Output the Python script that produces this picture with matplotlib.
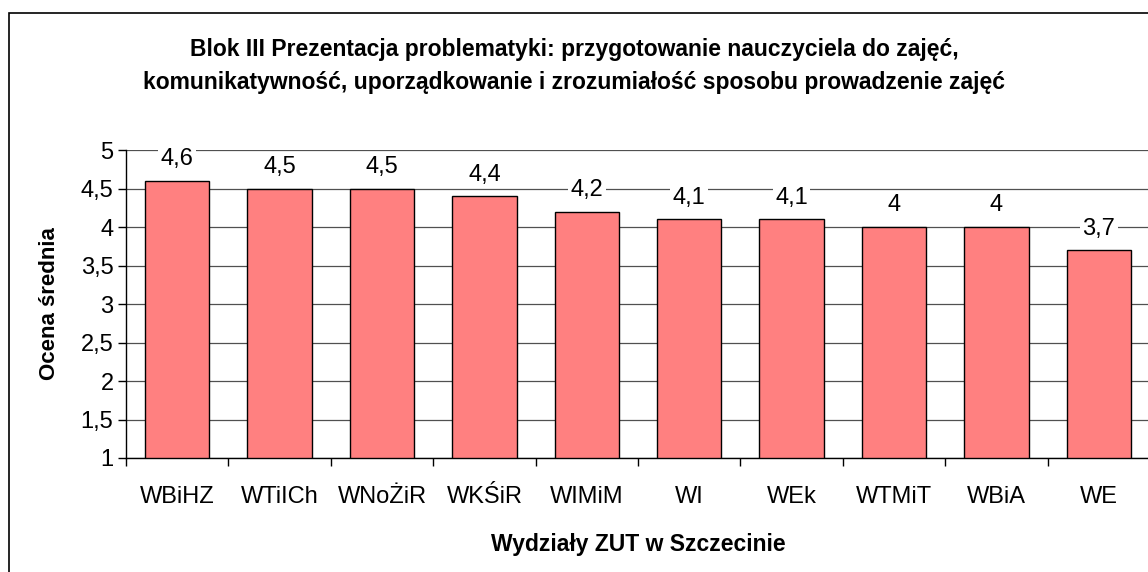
import matplotlib.pyplot as plt
from matplotlib.patches import Rectangle
from matplotlib.ticker import FixedLocator, FuncFormatter

plt.rcParams['font.family'] = ['Liberation Sans', 'DejaVu Sans']

wydzialy = ["WBiHZ", "WTiICh", "WNoŻiR", "WKŚiR", "WIMiM", "WI", "WEk", "WTMiT", "WBiA", "WE"]
oceny = [4.6, 4.5, 4.5, 4.4, 4.2, 4.1, 4.1, 4.0, 4.0, 3.7]
y_ticks = [1, 1.5, 2, 2.5, 3, 3.5, 4, 4.5, 5]

fig = plt.figure(figsize=(11.48, 5.72), dpi=100)
ax = fig.add_axes([126/1148, 1 - 458/572, 1024/1148, 308/572])

# outer chart frame (runs off right and bottom like in the screenshot)
fig.patches.append(Rectangle((9/1148, -0.1), 1.2, 1 - 13/572 + 0.1, transform=fig.transFigure,
                             fill=False, edgecolor='black', linewidth=1.2))

x = list(range(len(wydzialy)))
ax.bar(x, [v - 1 for v in oceny], bottom=1, width=0.63, color='#FF8080',
       edgecolor='black', linewidth=1, zorder=3)

for xi, v in zip(x, oceny):
    lab = ('%g' % v).replace('.', ',')
    ax.annotate(lab, (xi, v), xytext=(0, 15.5), textcoords='offset points',
                ha='center', va='center', fontsize=17, zorder=4,
                bbox=dict(boxstyle='square,pad=0.1', facecolor='white', edgecolor='none'))

ax.set_xlim(-0.5, len(wydzialy) - 0.5)
ax.set_ylim(1, 5)
ax.yaxis.set_major_locator(FixedLocator(y_ticks))
ax.yaxis.set_major_formatter(FuncFormatter(lambda v, p: ('%g' % v).replace('.', ',')))
ax.yaxis.grid(True, color='#505050', linewidth=0.9, zorder=1)
ax.set_xticks(x)
ax.set_xticklabels(wydzialy)
ax.set_xticks([i - 0.5 for i in range(len(wydzialy) + 1)], minor=True)
ax.tick_params(axis='x', which='major', length=0, pad=20, labelsize=17)
ax.tick_params(axis='x', which='minor', length=6, width=1, direction='out')
ax.tick_params(axis='y', length=6, width=1, direction='out', labelsize=17, pad=3)

for s in ['top', 'right']:
    ax.spines[s].set_visible(False)
ax.spines['left'].set_linewidth(1)
ax.spines['bottom'].set_linewidth(1)

ax.set_ylabel("Ocena średnia", fontsize=16, fontweight='bold', labelpad=15)
ax.set_xlabel("Wydziały ZUT w Szczecinie", fontsize=16.5, fontweight='bold', labelpad=18)

fig.text(574/1148, 1 - 66/572,
         "Blok III Prezentacja problematyki: przygotowanie nauczyciela do zajęć,\n"
         "komunikatywność, uporządkowanie i zrozumiałość sposobu prowadzenie zajęć",
         ha='center', va='center', fontsize=16.5, fontweight='bold', linespacing=1.55)

fig.savefig('out.png', dpi=100)
